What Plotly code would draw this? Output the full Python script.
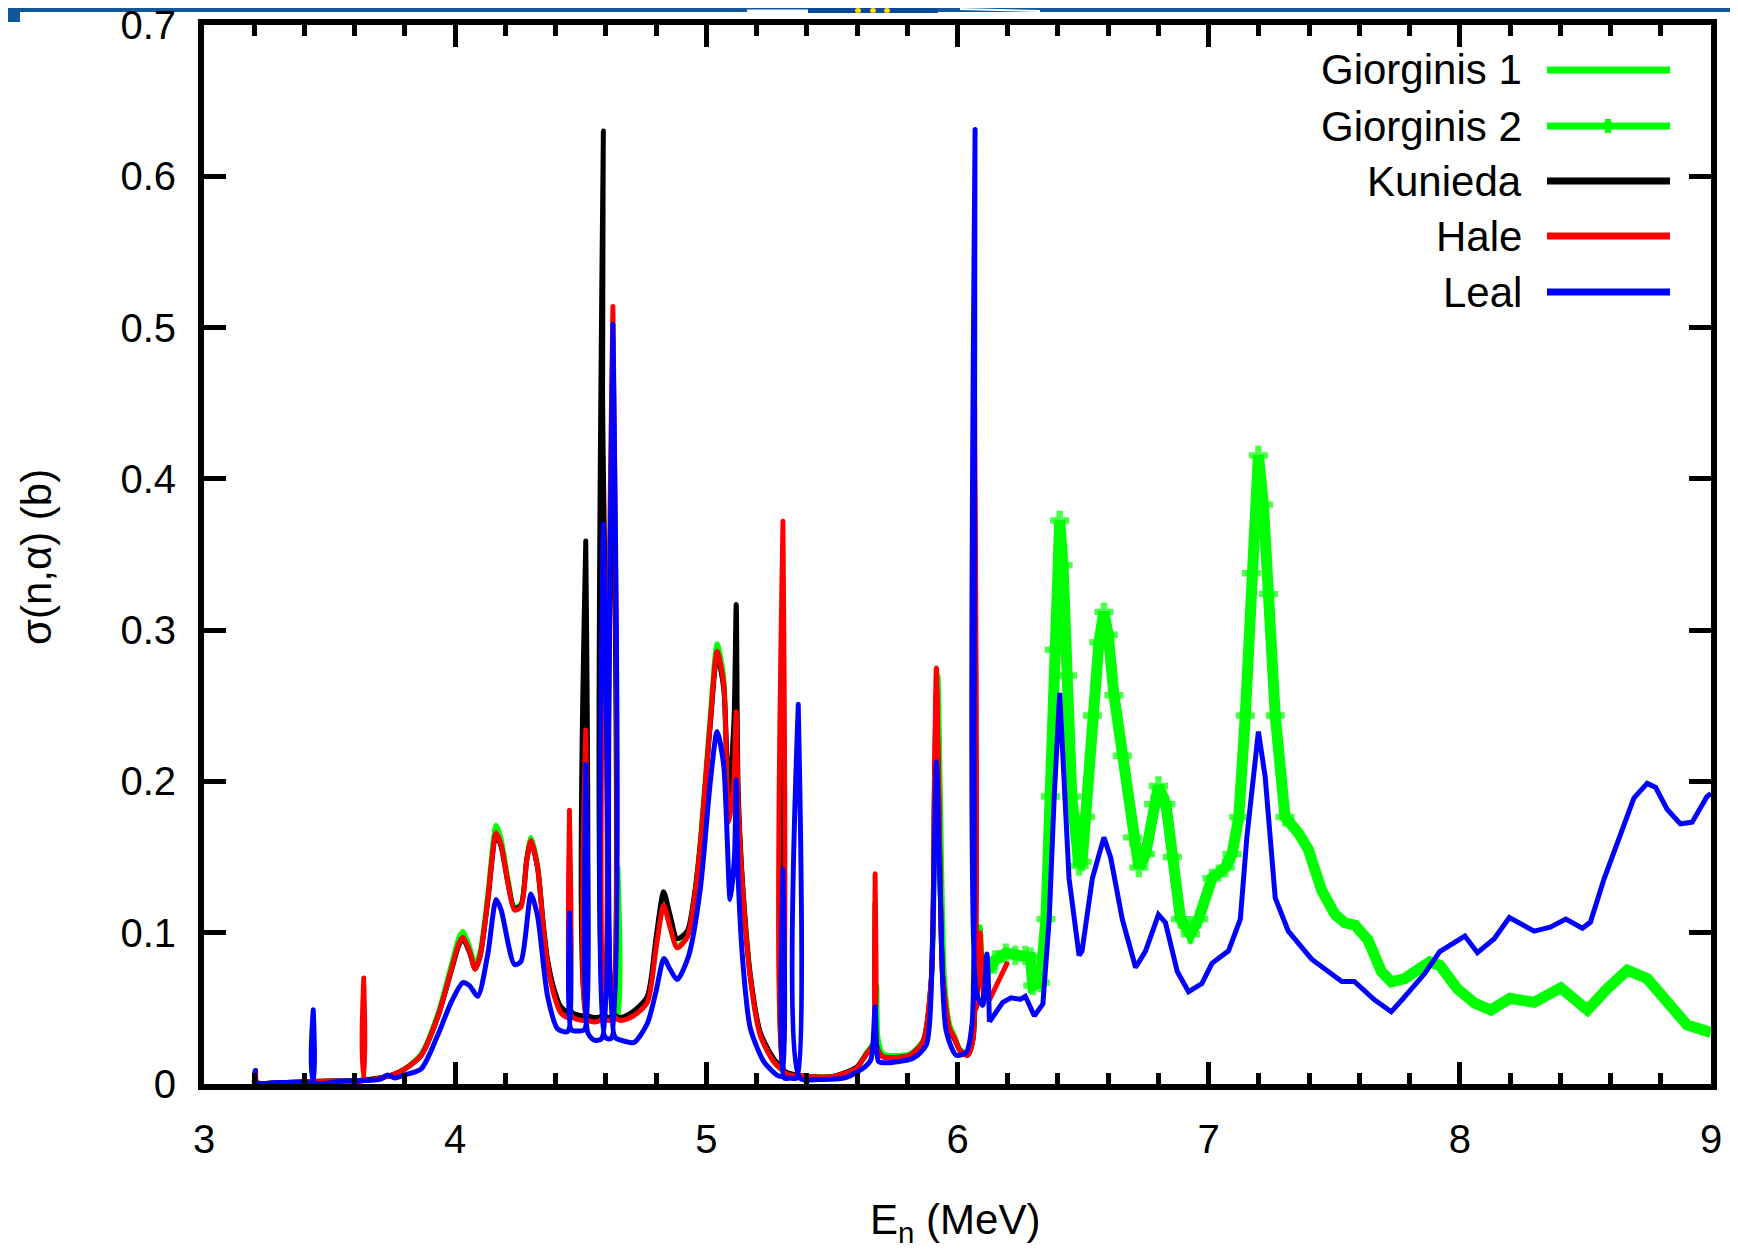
import plotly.graph_objects as go

# ---------------- data ----------------
hale_E = [3.20, 3.205, 3.21, 3.30, 3.40, 3.50, 3.60, 3.630, 3.636, 3.642, 3.70, 3.75, 3.80, 3.865, 3.93,
          3.985, 4.015, 4.031, 4.057, 4.08, 4.10, 4.13, 4.163, 4.183, 4.21, 4.236, 4.262, 4.285, 4.302,
          4.328, 4.35, 4.368, 4.395, 4.421, 4.448, 4.455, 4.462, 4.48, 4.51, 4.517, 4.52, 4.524, 4.555,
          4.583, 4.590, 4.597, 4.61, 4.624, 4.628, 4.633, 4.66, 4.71, 4.765, 4.80, 4.83, 4.855, 4.884,
          4.924, 4.95, 4.976, 5.016, 5.043, 5.069, 5.089, 5.110, 5.119, 5.126, 5.142, 5.175, 5.215,
          5.267, 5.294, 5.301, 5.305, 5.309, 5.333, 5.40, 5.505, 5.598, 5.638, 5.665, 5.672, 5.68,
          5.704, 5.81, 5.863, 5.896, 5.908, 5.916, 5.925, 5.942, 5.968, 5.99, 6.01, 6.04, 6.062, 6.068,
          6.074, 6.09, 6.105, 6.127, 6.2]
hale_S = [0.001, 0.008, 0.001, 0.001, 0.0015, 0.002, 0.002, 0.002, 0.070, 0.003, 0.004, 0.006, 0.010,
          0.019, 0.044, 0.076, 0.093, 0.097, 0.088, 0.076, 0.085, 0.122, 0.166, 0.158, 0.133, 0.115,
          0.117, 0.148, 0.161, 0.143, 0.105, 0.079, 0.058, 0.047, 0.044, 0.181, 0.045, 0.043, 0.042,
          0.042, 0.234, 0.043, 0.041, 0.043, 0.36, 0.043, 0.042, 0.043, 0.514, 0.045, 0.042, 0.045,
          0.054, 0.090, 0.118, 0.104, 0.090, 0.097, 0.120, 0.158, 0.240, 0.286, 0.265, 0.173, 0.200,
          0.246, 0.190, 0.136, 0.070, 0.032, 0.015, 0.0105, 0.010, 0.372, 0.008, 0.006, 0.005, 0.005,
          0.0105, 0.020, 0.026, 0.139, 0.024, 0.018, 0.019, 0.028, 0.070, 0.200, 0.275, 0.200, 0.070,
          0.037, 0.030, 0.022, 0.019, 0.030, 0.45, 0.050, 0.100, 0.060, 0.0555, 0.0807]

kunieda_E = [3.20, 3.205, 3.21, 3.30, 3.40, 3.50, 3.60, 3.70, 3.75, 3.80, 3.865, 3.93, 3.985, 4.015,
             4.031, 4.057, 4.08, 4.10, 4.13, 4.163, 4.183, 4.21, 4.236, 4.262, 4.285, 4.302, 4.328,
             4.35, 4.368, 4.395, 4.421, 4.448, 4.455, 4.462, 4.48, 4.51, 4.517, 4.52, 4.524, 4.555,
             4.583, 4.587, 4.590, 4.594, 4.61, 4.624, 4.628, 4.633, 4.66, 4.71, 4.765, 4.80, 4.83,
             4.855, 4.884, 4.924, 4.95, 4.976, 5.016, 5.043, 5.069, 5.089, 5.110, 5.119, 5.126, 5.142,
             5.175, 5.215, 5.267, 5.294, 5.301, 5.305, 5.309, 5.333, 5.40, 5.505, 5.598, 5.638, 5.665,
             5.672, 5.68, 5.704, 5.81, 5.863, 5.896, 5.908, 5.916, 5.925, 5.942, 5.968, 5.99, 6.01,
             6.04, 6.062, 6.068, 6.074, 6.09, 6.105]
kunieda_S = [0.001, 0.009, 0.001, 0.001, 0.0015, 0.002, 0.002, 0.004, 0.006, 0.010, 0.019, 0.044,
             0.075, 0.092, 0.096, 0.087, 0.076, 0.085, 0.121, 0.165, 0.157, 0.133, 0.116, 0.118,
             0.148, 0.160, 0.143, 0.107, 0.082, 0.062, 0.051, 0.048, 0.150, 0.048, 0.046, 0.045,
             0.045, 0.359, 0.046, 0.044, 0.045, 0.46, 0.63, 0.046, 0.044, 0.045, 0.45, 0.046, 0.044,
             0.048, 0.058, 0.097, 0.127, 0.112, 0.096, 0.101, 0.122, 0.158, 0.238, 0.283, 0.262,
             0.190, 0.240, 0.317, 0.200, 0.138, 0.072, 0.034, 0.017, 0.012, 0.011, 0.30, 0.009,
             0.007, 0.005, 0.005, 0.011, 0.020, 0.026, 0.120, 0.024, 0.018, 0.019, 0.028, 0.070,
             0.190, 0.260, 0.190, 0.068, 0.036, 0.029, 0.022, 0.019, 0.030, 0.40, 0.050, 0.090, 0.055]

giorginis1_E = [3.20, 3.205, 3.21, 3.30, 3.40, 3.50, 3.60, 3.70, 3.75, 3.80, 3.865, 3.93, 3.985,
                4.015, 4.031, 4.057, 4.08, 4.10, 4.13, 4.163, 4.183, 4.21, 4.236, 4.262, 4.285,
                4.302, 4.328, 4.35, 4.368, 4.395, 4.421, 4.448, 4.48, 4.51, 4.555, 4.583, 4.61,
                4.644, 4.648, 4.652, 4.66, 4.71, 4.765, 4.80, 4.83, 4.855, 4.884, 4.924, 4.95,
                4.976, 5.016, 5.043, 5.069, 5.089, 5.110, 5.126, 5.142, 5.175, 5.215, 5.267, 5.294,
                5.333, 5.40, 5.505, 5.598, 5.638, 5.665, 5.675, 5.679, 5.684, 5.704, 5.81, 5.863,
                5.896, 5.912, 5.922, 5.932, 5.948, 5.968, 5.99, 6.01, 6.04, 6.062, 6.068, 6.074,
                6.09, 6.105, 6.12]
giorginis1_S = [0.001, 0.009, 0.001, 0.001, 0.0015, 0.002, 0.002, 0.004, 0.006, 0.010, 0.020,
                0.046, 0.079, 0.097, 0.101, 0.091, 0.079, 0.088, 0.126, 0.171, 0.162, 0.136,
                0.117, 0.119, 0.150, 0.163, 0.145, 0.106, 0.080, 0.059, 0.048, 0.045, 0.044,
                0.043, 0.042, 0.044, 0.043, 0.044, 0.143, 0.044, 0.043, 0.046, 0.055, 0.091,
                0.119, 0.105, 0.091, 0.098, 0.122, 0.161, 0.245, 0.291, 0.270, 0.180, 0.190,
                0.180, 0.138, 0.072, 0.033, 0.015, 0.010, 0.006, 0.005, 0.005, 0.011, 0.021,
                0.027, 0.035, 0.065, 0.030, 0.020, 0.020, 0.029, 0.068, 0.190, 0.270, 0.190,
                0.070, 0.040, 0.031, 0.023, 0.020, 0.030, 0.300, 0.050, 0.104, 0.070, 0.075]

giorginis2_E = [6.12, 6.15, 6.193, 6.23, 6.27, 6.29, 6.30, 6.33, 6.352, 6.37, 6.385, 6.407, 6.42,
                6.438, 6.455, 6.484, 6.496, 6.51, 6.537, 6.563, 6.583, 6.60, 6.623, 6.656, 6.696,
                6.722, 6.749, 6.78, 6.80, 6.83, 6.855, 6.888, 6.927, 6.96, 7.013, 7.066, 7.093,
                7.12, 7.146, 7.17, 7.198, 7.218, 7.238, 7.265, 7.304, 7.357, 7.397, 7.45, 7.503,
                7.542, 7.583, 7.635, 7.688, 7.728, 7.78, 7.84, 7.88, 7.92, 7.99, 8.06, 8.124, 8.20,
                8.296, 8.402, 8.508, 8.587, 8.667, 8.746, 8.825, 8.905, 8.984, 9.0]
giorginis2_S = [0.075, 0.082, 0.0865, 0.085, 0.085, 0.0838, 0.065, 0.067, 0.109, 0.190, 0.287,
                0.3725, 0.343, 0.270, 0.190, 0.144, 0.147, 0.1765, 0.2436, 0.292, 0.312, 0.297,
                0.257, 0.217, 0.163, 0.143, 0.152, 0.185, 0.197, 0.185, 0.150, 0.109, 0.099,
                0.109, 0.136, 0.143, 0.152, 0.1765, 0.2436, 0.3376, 0.4155, 0.383, 0.324, 0.2436,
                0.1765, 0.166, 0.155, 0.128, 0.112, 0.1066, 0.105, 0.095, 0.0743, 0.0675, 0.0697,
                0.077, 0.0807, 0.0785, 0.063, 0.0533, 0.0489, 0.0566, 0.054, 0.0636, 0.0489,
                0.063, 0.0752, 0.0697, 0.0544, 0.039, 0.0348, 0.034]

leal_E = [3.20, 3.201, 3.204, 3.207, 3.30, 3.40, 3.432, 3.435, 3.439, 3.55, 3.70, 3.73, 3.76, 3.80,
          3.865, 3.93, 3.984, 4.031, 4.057, 4.09, 4.13, 4.163, 4.183, 4.236, 4.262, 4.302, 4.328,
          4.368, 4.408, 4.448, 4.455, 4.462, 4.49, 4.515, 4.52, 4.528, 4.553, 4.583, 4.59, 4.597,
          4.62, 4.628, 4.636, 4.66, 4.712, 4.765, 4.80, 4.831, 4.855, 4.884, 4.93, 4.976, 5.016,
          5.043, 5.069, 5.095, 5.112, 5.119, 5.126, 5.148, 5.175, 5.228, 5.28, 5.300, 5.305, 5.310,
          5.333, 5.360, 5.366, 5.372, 5.45, 5.55, 5.625, 5.655, 5.672, 5.685, 5.704, 5.823, 5.876,
          5.90, 5.916, 5.93, 5.955, 5.995, 6.035, 6.058, 6.066, 6.070, 6.076, 6.10, 6.117, 6.127,
          6.18, 6.213, 6.25, 6.27, 6.306, 6.34, 6.365, 6.385, 6.407, 6.418, 6.444, 6.484, 6.496,
          6.537, 6.583, 6.61, 6.656, 6.709, 6.749, 6.80, 6.828, 6.875, 6.92, 6.973, 7.013, 7.079,
          7.126, 7.152, 7.198, 7.225, 7.265, 7.317, 7.41, 7.53, 7.58, 7.66, 7.727, 7.77, 7.86,
          7.92, 8.02, 8.07, 8.137, 8.197, 8.296, 8.36, 8.422, 8.488, 8.52, 8.574, 8.64, 8.693,
          8.746, 8.78, 8.825, 8.878, 8.925, 8.984, 9.0]
leal_S = [0.001, 0.001, 0.009, 0.001, 0.001, 0.001, 0.001, 0.049, 0.001, 0.002, 0.003, 0.006, 0.004,
          0.006, 0.010, 0.032, 0.054, 0.067, 0.065, 0.058, 0.086, 0.122, 0.115, 0.079, 0.081,
          0.1256, 0.111, 0.058, 0.0364, 0.0347, 0.113, 0.036, 0.035, 0.036, 0.211, 0.034, 0.029,
          0.030, 0.37, 0.031, 0.030, 0.502, 0.031, 0.029, 0.0275, 0.040, 0.0614, 0.083, 0.076,
          0.069, 0.085, 0.129, 0.200, 0.233, 0.211, 0.122, 0.150, 0.201, 0.140, 0.075, 0.037,
          0.015, 0.006, 0.005, 0.142, 0.004, 0.004, 0.004, 0.251, 0.004, 0.003, 0.004, 0.0105,
          0.016, 0.051, 0.015, 0.014, 0.017, 0.026, 0.092, 0.213, 0.135, 0.035, 0.019, 0.021,
          0.040, 0.25, 0.631, 0.060, 0.052, 0.086, 0.041, 0.054, 0.057, 0.056, 0.058, 0.045,
          0.053, 0.109, 0.190, 0.2586, 0.222, 0.136, 0.085, 0.088, 0.136, 0.163, 0.1496, 0.109,
          0.077, 0.088, 0.112, 0.1066, 0.0743, 0.061, 0.0664, 0.0798, 0.088, 0.109, 0.163, 0.233,
          0.203, 0.123, 0.101, 0.0825, 0.0678, 0.0678, 0.0557, 0.0478, 0.0557, 0.073, 0.0875,
          0.0978, 0.0868, 0.096, 0.110, 0.101, 0.1037, 0.109, 0.103, 0.107, 0.1355, 0.166, 0.189,
          0.1987, 0.196, 0.1816, 0.172, 0.173, 0.190, 0.192]

series_names = ["Giorginis 1", "Giorginis 2", "Kunieda", "Hale", "Leal"]
series_colors = ["#00ff00", "#00ff00", "#000000", "#ff0000", "#0000ff"]

x_ticks = [3, 4, 5, 6, 7, 8, 9]
y_ticks = [0, 0.1, 0.2, 0.3, 0.4, 0.5, 0.6, 0.7]

# ---------------- layout geometry ----------------
# the page body adds an 8 px offset; figure sized so that page coords match the reference
OFF = 8
W, H = 1730, 1246
PL, PR, PT, PB = 204, 1711, 25, 1084          # plot area in page pixels
ML, MT = PL - OFF, PT - OFF
MR, MB = W - (PR - OFF), H - (PB - OFF)
PW, PH = PR - PL, PB - PT
FONT = "Liberation Sans, Arial, Helvetica, sans-serif"
E_SPLIT = 6.13   # resonance region (smooth curves) / high-energy region (straight segments)


def px(xp):
    return (xp - PL) / PW


def py(yp):
    return (PB - yp) / PH


def add_series(fig, ex, sy, name, col, width):
    lo = [(e, s) for e, s in zip(ex, sy) if e <= E_SPLIT]
    hi_start = max(0, len(lo) - 1)
    hi = list(zip(ex, sy))[hi_start:]
    if lo:
        fig.add_trace(go.Scatter(x=[p[0] for p in lo], y=[p[1] for p in lo], name=name,
                                 mode="lines", line=dict(color=col, width=width,
                                                         shape="spline", smoothing=0.7),
                                 showlegend=False, legendgroup=name))
    if len(hi) > 1:
        fig.add_trace(go.Scatter(x=[p[0] for p in hi], y=[p[1] for p in hi], name=name,
                                 mode="lines", line=dict(color=col, width=width),
                                 showlegend=False, legendgroup=name))


fig = go.Figure()

data = [(giorginis1_E, giorginis1_S), (giorginis2_E, giorginis2_S),
        (kunieda_E, kunieda_S), (hale_E, hale_S), (leal_E, leal_S)]

for name, col, (ex, sy) in zip(series_names, series_colors, data):
    if name == "Giorginis 2":
        sizes = [16 if e < 7.35 else 0 for e in ex]
        fig.add_trace(go.Scatter(
            x=ex, y=sy, name=name, mode="lines+markers",
            line=dict(color=col, width=11),
            marker=dict(symbol="cross", size=sizes, color=col, line=dict(width=0)),
            showlegend=False))
    else:
        add_series(fig, ex, sy, name, col, 5)

axis_common = dict(
    showline=True, linewidth=6, linecolor="black", mirror="ticks",
    ticks="inside", ticklen=22, tickwidth=5, tickcolor="black",
    showgrid=False, zeroline=False, automargin=False, ticklabeloverflow="allow",
    tickfont=dict(family=FONT, size=40, color="black"),
)

fig.update_xaxes(range=[3, 9], tickvals=x_ticks, ticklabelstandoff=15,
                 minor=dict(dtick=0.2, tick0=3, ticks="inside", ticklen=11, tickwidth=5,
                            tickcolor="black", showgrid=False),
                 **axis_common)
fig.update_yaxes(range=[0, 0.7], tickvals=y_ticks, ticklabelstandoff=14, **axis_common)

annotations = []
shapes = []

# axis titles
annotations.append(dict(text="E<sub>n</sub> (MeV)", xref="paper", yref="paper",
                        x=px(955), y=py(1222), xanchor="center", yanchor="middle",
                        showarrow=False, font=dict(family=FONT, size=42, color="black")))
annotations.append(dict(text="σ(n,α) (b)", xref="paper", yref="paper",
                        x=px(36), y=py(557), xanchor="center", yanchor="middle",
                        textangle=-90, showarrow=False,
                        font=dict(family=FONT, size=42, color="black")))

# custom legend (text right-aligned, sample to the right)
legend_rows = [70, 126, 181, 236, 292]
for name, col, yy in zip(series_names, series_colors, legend_rows):
    annotations.append(dict(text=name, xref="paper", yref="paper", x=px(1524), y=py(yy),
                            xanchor="right", yanchor="middle", showarrow=False,
                            font=dict(family=FONT, size=42, color="black")))
    shapes.append(dict(type="line", xref="paper", yref="paper",
                       x0=px(1547), x1=px(1670), y0=py(yy), y1=py(yy),
                       line=dict(color=col, width=7)))
# marker on Giorginis 2 legend sample
shapes.append(dict(type="rect", xref="paper", yref="paper",
                   x0=px(1605), x1=px(1611), y0=py(legend_rows[1] + 7), y1=py(legend_rows[1] - 7),
                   line=dict(width=0), fillcolor="#00ff00"))

# header decoration (blue strip with emblem) at the very top of the figure
blue = "#13579b"
top = OFF
shapes.append(dict(type="rect", xref="paper", yref="paper", x0=px(OFF), x1=px(W + OFF),
                   y0=py(top + 4), y1=py(top), line=dict(width=0), fillcolor=blue, layer="below"))
shapes.append(dict(type="rect", xref="paper", yref="paper", x0=px(OFF), x1=px(OFF + 12),
                   y0=py(top + 14), y1=py(top), line=dict(width=0), fillcolor=blue, layer="below"))
shapes.append(dict(type="rect", xref="paper", yref="paper", x0=px(747), x1=px(808),
                   y0=py(top + 4), y1=py(top + 1.5), line=dict(width=0), fillcolor="white",
                   layer="below"))
shapes.append(dict(type="rect", xref="paper", yref="paper", x0=px(808), x1=px(938),
                   y0=py(top + 5), y1=py(top), line=dict(width=0), fillcolor="#0a4a9a",
                   layer="below"))
for sx in [858, 873, 887]:
    shapes.append(dict(type="circle", xref="paper", yref="paper", x0=px(sx - 3), x1=px(sx + 3),
                       y0=py(top + 5), y1=py(top), line=dict(width=0),
                       fillcolor="#ffe000", layer="below"))
shapes.append(dict(type="line", xref="paper", yref="paper", x0=px(960), x1=px(1040),
                   y0=py(top + 1), y1=py(top + 3), line=dict(color="white", width=2),
                   layer="below"))

fig.update_layout(
    width=W, height=H,
    margin=dict(l=ML, r=MR, t=MT, b=MB, pad=0, autoexpand=False),
    plot_bgcolor="white", paper_bgcolor="white",
    showlegend=False,
    annotations=annotations, shapes=shapes,
    font=dict(family=FONT, color="black"),
)

fig.write_html("out.html")
